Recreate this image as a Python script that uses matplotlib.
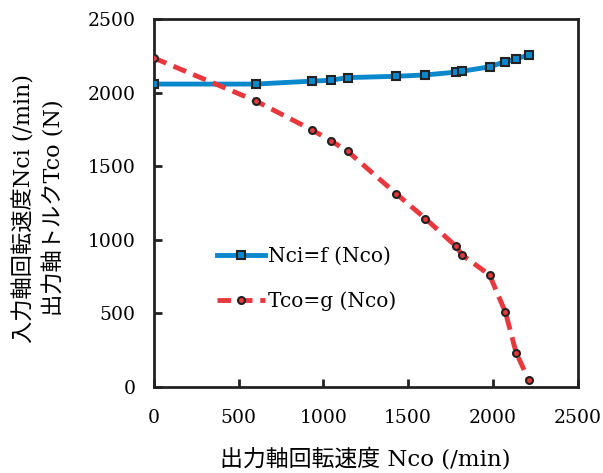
import matplotlib.pyplot as plt

# output shaft speed Nco (/min)
nco = [0, 600, 933, 1043, 1143, 1429, 1602, 1780, 1820, 1980, 2074, 2137, 2212]
# input shaft speed Nci (/min)
nci = [2060, 2060, 2080, 2086, 2104, 2113, 2122, 2141, 2148, 2177, 2213, 2231, 2259]
# output shaft torque Tco (N)
tco = [2238, 1946, 1748, 1676, 1603, 1315, 1145, 959, 896, 762, 508, 233, 46]

ticks = [0, 500, 1000, 1500, 2000, 2500]

fonts = ['DejaVu Serif', 'Noto Sans CJK JP', 'DejaVu Sans']
plt.rcParams['font.family'] = fonts

fig = plt.figure(figsize=(6.03, 4.73), dpi=100)
ax = fig.add_axes([0.255, 0.182, 0.703, 0.777])

ax.plot(nco, nci, color='#0a88cc', lw=3.5, marker='s', ms=5.5,
        mfc='#0a88cc', mec='#222222', mew=1.5, label='Nci=f (Nco)', zorder=3)
ax.plot(nco, tco, color='#e8383d', lw=3.5, ls=(0, (2.8, 1.6)), marker='o', ms=5,
        mfc='#e8383d', mec='#222222', mew=1.5, label='Tco=g (Nco)', zorder=3)

ax.set_xlim(0, 2500)
ax.set_ylim(0, 2500)
ax.set_xticks(ticks)
ax.set_yticks(ticks)
ax.tick_params(direction='in', length=6, width=2, color='#222222',
               labelsize=13.5, top=False, right=False)
ax.tick_params(axis='x', pad=16)
ax.tick_params(axis='y', pad=13)
for s in ax.spines.values():
    s.set_linewidth(2)
    s.set_color('#222222')

ax.set_xlabel('出力軸回転速度 Nco (/min)', fontsize=16.5, labelpad=15)
fig.text(0.040, 0.56, '入力軸回転速度Nci (/min)', rotation=90,
         ha='center', va='center', fontsize=16)
fig.text(0.090, 0.56, '出力軸トルクTco (N)', rotation=90,
         ha='center', va='center', fontsize=16)

ax.legend(loc='upper left', bbox_to_anchor=(0.148, 0.38), frameon=False,
          fontsize=14.5, handlelength=2.4, handletextpad=0.15, labelspacing=1.25,
          borderpad=0, borderaxespad=0)

fig.savefig('out.png', dpi=100)
